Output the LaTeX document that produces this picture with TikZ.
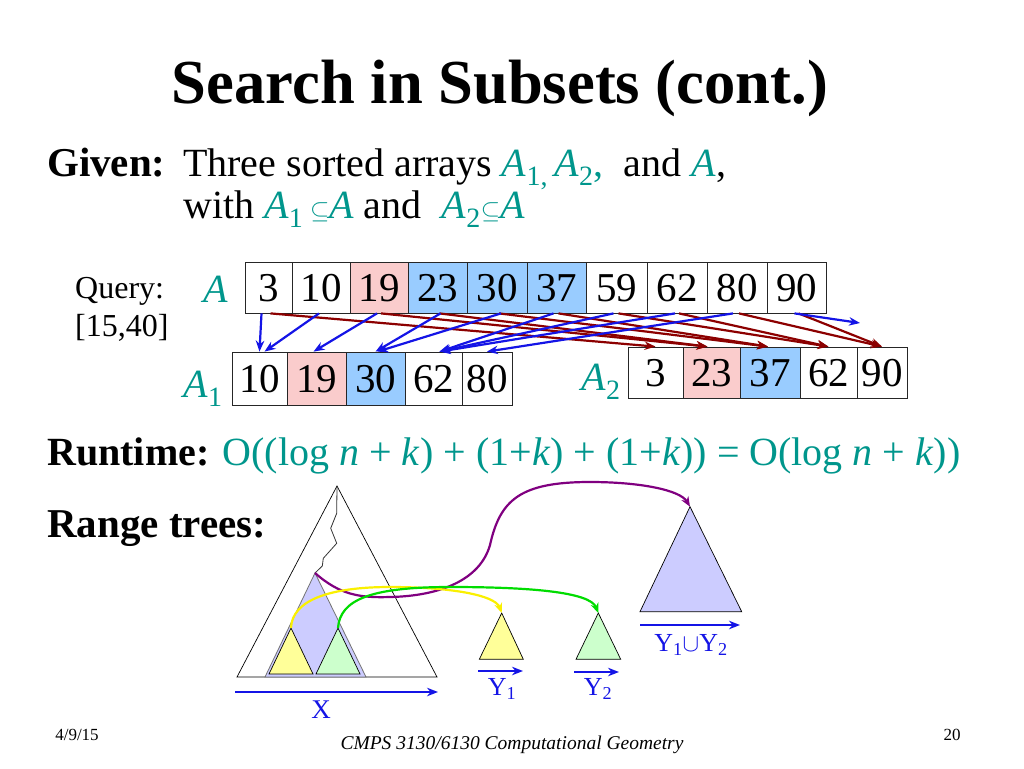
\documentclass[tikz,border=0pt]{standalone}
\usepackage{fontspec}
\usepackage{amssymb}
\setmainfont{Liberation Serif}
\usetikzlibrary{arrows.meta}
\definecolor{tealc}{RGB}{0,150,140}
\definecolor{pinkc}{RGB}{250,204,204}
\definecolor{lblue}{RGB}{153,204,255}
\definecolor{darkred}{RGB}{140,0,0}
\definecolor{bluec}{RGB}{20,20,230}
\definecolor{lav}{RGB}{204,204,255}
\definecolor{ylw}{RGB}{255,255,153}
\definecolor{grn}{RGB}{204,255,204}
\definecolor{purp}{RGB}{128,0,128}
\definecolor{ylwline}{RGB}{250,240,0}
\definecolor{grnline}{RGB}{0,220,0}
\begin{document}
\begin{tikzpicture}[x=1pt,y=-1pt,
  cell/.style={draw=black!85, line width=0.8pt, inner sep=0pt, text height=28pt, text depth=0pt,
    font=\fontsize{41}{44}\selectfont},
  rowA/.style={cell, minimum height=51pt},
  rowB/.style={cell, minimum height=53pt},
  rowC/.style={cell, minimum height=51pt},
  barr/.style={draw=bluec, line width=2.2pt, -{Stealth[length=11pt,width=8.5pt]}},
  rarr/.style={draw=darkred, line width=2.2pt, -{Stealth[length=11pt,width=8.5pt]}},
  axis/.style={draw=bluec, line width=2.4pt, -{Stealth[length=11pt,width=8.5pt]}},
  curv/.style={line width=2.2pt, -{Stealth[length=10pt,width=8pt]}},
  tri/.style={draw=black, line width=0.7pt},
  body/.style={inner sep=0pt, anchor=base west, font=\fontsize{40}{46}\selectfont},
  lbl/.style={inner sep=0pt, text=bluec, font=\fontsize{26}{30}\selectfont}
]
\useasboundingbox (0,0) rectangle (1024,768);

% title
\node[inner sep=0pt, anchor=base, font=\fontsize{62.6}{70}\selectfont\bfseries] (title) at (500,103) {Search in Subsets (cont.)};

% given
\node[body, font=\fontsize{41}{46}\selectfont\bfseries] (given) at (47,176) {Given:};
\node[body] (line1) at (183,176) {Three sorted arrays \textcolor{tealc}{\textit{A}\textsubscript{1,}\,\textit{A}\textsubscript{2},}\ \ and \textcolor{tealc}{\textit{A}},};
\node[body] (line2) at (183,218) {with \textcolor{tealc}{\textit{A}\textsubscript{1}\,$\subseteq$\textit{A}} and \ \textcolor{tealc}{\textit{A}\textsubscript{2}$\subseteq$\textit{A}}};

% query
\node[inner sep=0pt, anchor=base west, font=\fontsize{32}{36}\selectfont] (q1) at (75,298) {Query:};
\node[inner sep=0pt, anchor=base west, font=\fontsize{32}{36}\selectfont] (q2) at (75,336) {[15,40]};

% array labels
\node[inner sep=0pt, anchor=base, text=tealc, font=\fontsize{40}{46}\selectfont\itshape] (labA) at (216,302) {A};
\node[inner sep=0pt, anchor=base, text=tealc, font=\fontsize{40}{46}\selectfont] (labA1) at (203,397) {\textit{A}\textsubscript{1}};
\node[inner sep=0pt, anchor=base, text=tealc, font=\fontsize{40}{46}\selectfont] (labA2) at (601,390) {\textit{A}\textsubscript{2}};

% array A
\node[rowA, minimum width=47pt] (a1) at (268.5,287.5) {3};
\node[rowA, minimum width=58pt] (a2) at (321,287.5) {10};
\node[rowA, minimum width=58pt, fill=pinkc] (a3) at (379,287.5) {19};
\node[rowA, minimum width=59pt, fill=lblue] (a4) at (437.5,287.5) {23};
\node[rowA, minimum width=60pt, fill=lblue] (a5) at (497,287.5) {30};
\node[rowA, minimum width=59pt, fill=lblue] (a6) at (556.5,287.5) {37};
\node[rowA, minimum width=61pt] (a7) at (616.5,287.5) {59};
\node[rowA, minimum width=60pt] (a8) at (677,287.5) {62};
\node[rowA, minimum width=60pt] (a9) at (737,287.5) {80};
\node[rowA, minimum width=59pt] (a10) at (796.5,287.5) {90};

% array A1
\node[rowB, minimum width=55pt] (b1) at (259.5,378.5) {10};
\node[rowB, minimum width=59pt, fill=pinkc] (b2) at (316.5,378.5) {19};
\node[rowB, minimum width=59pt, fill=lblue] (b3) at (375.5,378.5) {30};
\node[rowB, minimum width=57pt] (b4) at (433.5,378.5) {62};
\node[rowB, minimum width=50pt] (b5) at (487,378.5) {80};

% array A2
\node[rowC, minimum width=55pt] (c1) at (655.5,372.5) {3};
\node[rowC, minimum width=57pt, fill=pinkc] (c2) at (711.5,372.5) {23};
\node[rowC, minimum width=60pt, fill=lblue] (c3) at (770,372.5) {37};
\node[rowC, minimum width=57pt] (c4) at (828.5,372.5) {62};
\node[rowC, minimum width=50pt] (c5) at (882,372.5) {90};

\coordinate (a10end) at (860,323);

% red pointers A -> A2
\draw[rarr] ([xshift=2pt]a1.south) -- (c1.north);
\draw[rarr] ([xshift=2pt]a3.south) -- ([xshift=-4pt]c2.north);
\draw[rarr] ([xshift=2pt]a4.south) -- ([xshift=-4pt]c2.north);
\draw[rarr] ([xshift=2pt]a5.south) -- ([xshift=-2pt]c3.north);
\draw[rarr] ([xshift=2pt]a6.south) -- ([xshift=-2pt]c3.north);
\draw[rarr] ([xshift=2pt]a7.south) -- (c4.north);
\draw[rarr] ([xshift=2pt]a8.south) -- (c4.north);
\draw[rarr] ([xshift=2pt]a9.south) -- (c5.north);
\draw[rarr] ([xshift=2pt]a10.south) -- (c5.north);

% blue pointers A -> A1
\draw[barr] ([xshift=-7pt]a1.south) -- ([xshift=0pt]b1.north);
\draw[barr] ([xshift=-2pt]a2.south) -- ([xshift=5pt]b1.north);
\draw[barr] ([xshift=-2pt]a3.south) -- ([xshift=-3pt]b2.north);
\draw[barr] ([xshift=3pt]a4.south) -- (b3.north);
\draw[barr] ([xshift=4pt]a5.south) -- ([xshift=2pt]b3.north);
\draw[barr] ([xshift=-3pt]a6.south) -- ([xshift=6pt]b4.north);
\draw[barr] ([xshift=-3pt]a7.south) -- ([xshift=6pt]b4.north);
\draw[barr] ([xshift=-2pt]a8.south) -- ([xshift=6pt]b4.north);
\draw[barr] ([xshift=-4pt]a9.south) -- (b5.north);
\draw[barr] ([xshift=-2pt]a10.south) -- (a10end);

% runtime
\node[inner sep=0pt, anchor=base west, font=\fontsize{40}{46}\selectfont] (runtime) at (47,465)
  {\textbf{Runtime:} \textcolor{tealc}{O((log \textit{n} + \textit{k}) + (1+\textit{k}) + (1+\textit{k})) = O(log \textit{n} + \textit{k}))}};

\node[body, font=\fontsize{41}{46}\selectfont\bfseries] (range) at (47,537) {Range trees:};

% big triangle
\coordinate (bigapex) at (337,486);
\coordinate (lavtop) at (315,573);
\coordinate (yeltop) at (291,628);
\coordinate (grntop) at (338,628);
\coordinate (y1top) at (501.7,613);
\coordinate (y2top) at (598.3,613);
\coordinate (bigtop) at (690,506.7);

\draw[tri, fill=white] (bigapex) -- (437,677) -- (237,677) -- cycle;
\draw[draw=black!55, line width=0.8pt, fill=lav] (lavtop) -- (366,677) -- (265,677) -- cycle;
\draw[tri, fill=ylw] (yeltop) -- (313,674) -- (269,674) -- cycle;
\draw[tri, fill=grn] (grntop) -- (360,674) -- (316,674) -- cycle;
\draw[line width=0.8pt, black!80] (bigapex) -- (336.7,513.3) -- (330.7,528.3) -- (336.7,543.3) -- (323.3,558.3) -- (322.3,566) -- (lavtop);

% small trees
\draw[tri, fill=ylw] (y1top) -- (523.3,659.3) -- (479.3,659.3) -- cycle;
\draw[tri, fill=grn] (y2top) -- (620.7,659.3) -- (576,659.3) -- cycle;
\draw[tri, fill=lav] (bigtop) -- (741.7,611.7) -- (640,611.7) -- cycle;

% axes
\coordinate (xs) at (235,692); \coordinate (xe) at (438,692);
\coordinate (y1s) at (478,671); \coordinate (y1e) at (523,671);
\coordinate (y2s) at (574,672); \coordinate (y2e) at (619,672);
\coordinate (ys) at (640,625); \coordinate (ye) at (740,625);
\draw[axis] (xs) -- (xe);
\draw[axis] (y1s) -- (y1e);
\draw[axis] (y2s) -- (y2e);
\draw[axis] (ys) -- (ye);
\node[lbl, font=\fontsize{27}{30}\selectfont] (xl) at (321,710) {X};
\node[lbl] (y1l) at (502,689) {Y\textsubscript{1}};
\node[lbl] (y2l) at (598,689) {Y\textsubscript{2}};
\node[lbl] (y12l) at (691,645) {Y\textsubscript{1}$\cup$Y\textsubscript{2}};

% curves
\draw[curv, draw=purp] (lavtop) .. controls (340,595) and (360,598) .. (390,597)
   .. controls (440,596) and (480,580) .. (490,545)
   .. controls (500,500) and (520,482) .. (590,482)
   .. controls (640,482) and (680,490) .. (bigtop);
\draw[curv, draw=ylwline] (yeltop) .. controls (292,600) and (330,587) .. (390,587)
   .. controls (450,587) and (495,595) .. (y1top);
\draw[curv, draw=grnline] (grntop) .. controls (340,600) and (370,587) .. (450,587)
   .. controls (530,587) and (590,592) .. (y2top);

% footer
\node[inner sep=0pt, font=\fontsize{17}{20}\selectfont] (date) at (77,735) {4/9/15};
\node[inner sep=0pt, font=\fontsize{17}{20}\selectfont] (page) at (952,735) {20};
\node[inner sep=0pt, font=\fontsize{19.5}{22}\selectfont\itshape] (foot) at (512,745) {CMPS 3130/6130 Computational Geometry};
\end{tikzpicture}
\end{document}
